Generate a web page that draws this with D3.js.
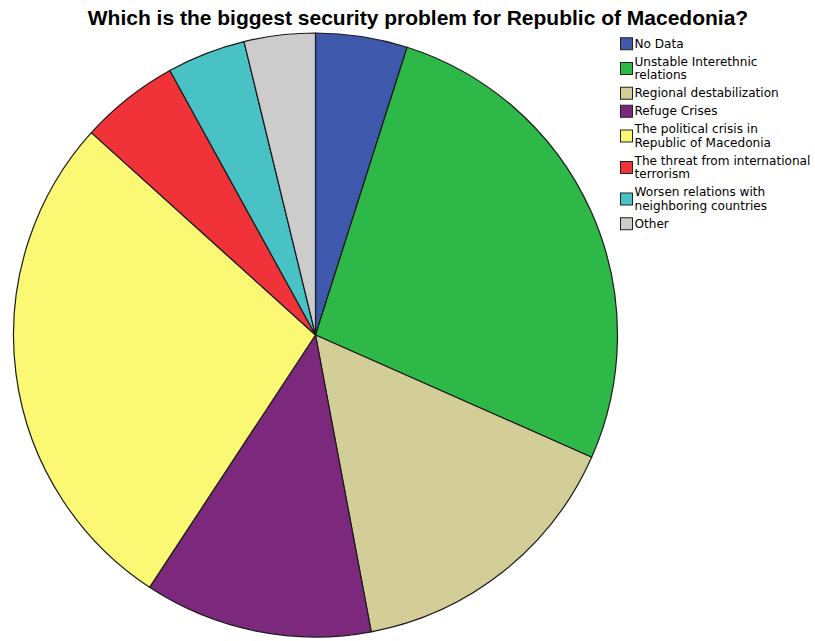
<!DOCTYPE html>
<html>
<head>
<meta charset="utf-8">
<script src="https://cdn.jsdelivr.net/npm/d3@7"></script>
<style>
  html, body { margin: 0; padding: 0; background: #fff; }
  svg { display: block; }
</style>
</head>
<body>
<svg id="chart" width="815" height="641"></svg>
<script>
// Answer categories and their shares (percent of respondents)
const categories = [
  "No Data",
  "Unstable Interethnic relations",
  "Regional destabilization",
  "Refuge Crises",
  "The political crisis in Republic of Macedonia",
  "The threat from international terrorism",
  "Worsen relations with neighboring countries",
  "Other"
];
const values = [4.9, 26.7, 15.4, 12.2, 27.4, 5.3, 4.2, 3.8];
const colors = ["#3e58ac", "#2eb848", "#d3ce97", "#7c287d", "#fbf873", "#ef3338", "#48c2c5", "#cccccc"];
// Legend text, broken into lines
const legendLines = [
  ["No Data"],
  ["Unstable Interethnic", "relations"],
  ["Regional destabilization"],
  ["Refuge Crises"],
  ["The political crisis in", "Republic of Macedonia"],
  ["The threat from international", "terrorism"],
  ["Worsen relations with", "neighboring countries"],
  ["Other"]
];
const title = "Which is the biggest security problem for Republic of Macedonia?";

const svg = d3.select("#chart");
const cx = 315.5, cy = 335, r = 302;

svg.append("text")
  .attr("x", 418).attr("y", 25)
  .attr("text-anchor", "middle")
  .attr("font-family", "Liberation Sans, Arial, sans-serif")
  .attr("font-weight", "bold")
  .attr("font-size", 21)
  .attr("fill", "#000")
  .text(title);

const data = categories.map((c, i) => ({ name: c, value: values[i], color: colors[i] }));
const pie = d3.pie().value(d => d.value).sort(null);
const arc = d3.arc().innerRadius(0).outerRadius(r);

svg.append("g")
  .attr("transform", `translate(${cx},${cy})`)
  .selectAll("path")
  .data(pie(data))
  .join("path")
  .attr("d", arc)
  .attr("fill", d => d.data.color)
  .attr("stroke", "#1a1a1a")
  .attr("stroke-width", 1.2)
  .attr("stroke-linejoin", "round");

// Legend
const lg = svg.append("g").attr("font-family", "DejaVu Sans, sans-serif").attr("font-size", 12.1);
const lineH = 13.5;
let y = 37;
legendLines.forEach((lines, i) => {
  const blockH = lines.length * lineH;
  const item = lg.append("g");
  item.append("rect")
    .attr("x", 620.5).attr("y", y + blockH / 2 - 6)
    .attr("width", 12).attr("height", 12)
    .attr("fill", colors[i])
    .attr("stroke", "#222")
    .attr("stroke-width", 1);
  lines.forEach((t, j) => {
    item.append("text")
      .attr("x", 634.5).attr("y", y + j * lineH + 10.5)
      .attr("fill", "#000")
      .text(t);
  });
  y += blockH + 4.5;
});
</script>
</body>
</html>
